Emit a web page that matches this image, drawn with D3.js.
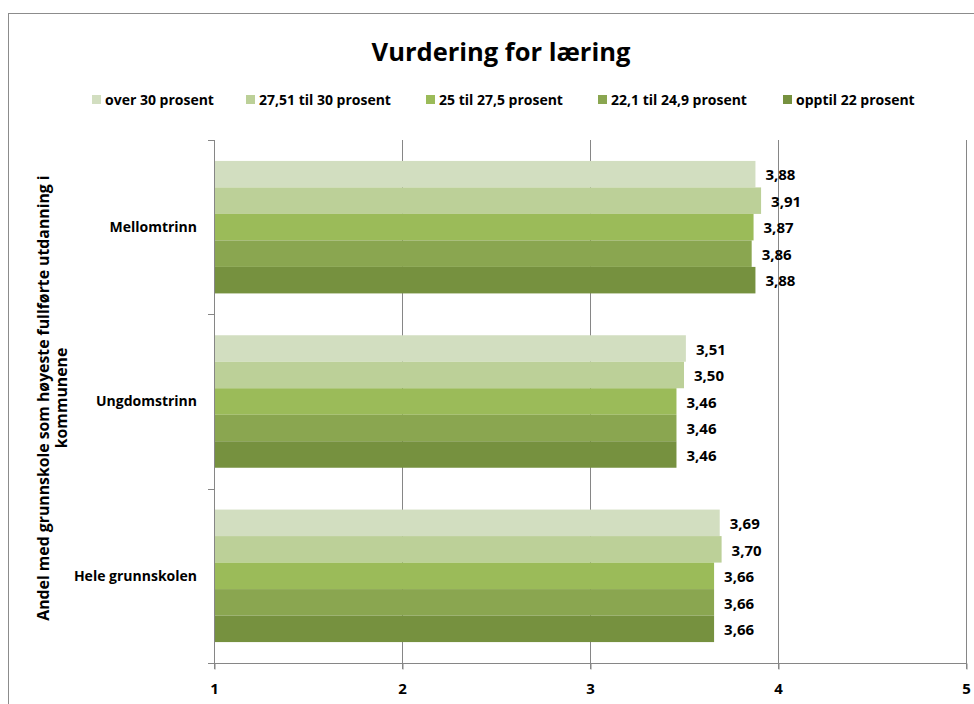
<!DOCTYPE html>
<html><head><meta charset="utf-8">
<script src="https://cdn.jsdelivr.net/npm/d3@7"></script>
<style>
body{margin:0;background:#fff;}
text{font-family:"Open Sans",sans-serif;font-weight:bold;fill:#000;}
</style></head>
<body><svg id="c" width="974" height="704"></svg>
<script>
const title = "Vurdering for læring";
const categories = ["Mellomtrinn","Ungdomstrinn","Hele grunnskolen"];
const series = ["over 30 prosent","27,51 til 30 prosent","25 til 27,5 prosent","22,1 til 24,9 prosent","opptil 22 prosent"];
const colors = ["#d2dec0","#bcd098","#9bbb59","#8aa650","#76913f"];
const values = [
  [3.88, 3.51, 3.69],
  [3.91, 3.50, 3.70],
  [3.87, 3.46, 3.66],
  [3.86, 3.46, 3.66],
  [3.88, 3.46, 3.66]
];
const xTicks = [1,2,3,4,5];
const yTitle = ["Andel med grunnskole som høyeste fullførte utdanning i","kommunene"];

const svg = d3.select("#c");
svg.append("rect").attr("x",8.5).attr("y",13.5).attr("width",990).attr("height",720)
  .attr("fill","none").attr("stroke","#8c8c8c").attr("stroke-width",1);

const L=214, R=966, T=140, B=663;
const x = d3.scaleLinear().domain([1,5]).range([L,R]);
const y0 = d3.scaleBand().domain(categories).range([T,B]).paddingInner(0.24).paddingOuter(0.12);
const y1 = d3.scaleBand().domain(series).range([0,y0.bandwidth()]);

svg.append("text").attr("x",501).attr("y",61).attr("text-anchor","middle")
  .style("font-size","25.5px").text(title);

svg.append("g").selectAll("line").data(xTicks.slice(1)).join("line")
  .attr("x1",d=>Math.round(x(d))+0.5).attr("x2",d=>Math.round(x(d))+0.5)
  .attr("y1",T).attr("y2",B+6).attr("stroke","#868686");

const g = svg.append("g");
series.forEach((s,i)=>{
  g.append("g").selectAll("rect").data(categories).join("rect")
    .attr("x",L).attr("y",c=>y0(c)+y1(s))
    .attr("width",(c,j)=>x(values[i][j])-L).attr("height",y1.bandwidth())
    .attr("fill",colors[i]);
  g.append("g").selectAll("text").data(categories).join("text")
    .attr("x",(c,j)=>x(values[i][j])+10).attr("y",c=>y0(c)+y1(s)+y1.bandwidth()/2+1)
    .attr("dy","0.35em").style("font-size","15px")
    .text((c,j)=>d3.format(".2f")(values[i][j]).replace(".",","));
});

const xa = svg.append("g").attr("transform",`translate(0,${B+0.5})`)
  .call(d3.axisBottom(x).tickValues(xTicks).tickSize(6).tickPadding(14).tickFormat(d=>d));
xa.select(".domain").attr("stroke","#868686").attr("d",`M${L-6},0H${R}`);
xa.selectAll(".tick line").attr("stroke","#868686").attr("x1",0.5).attr("x2",0.5);
xa.selectAll("text").style("font-size","15px").attr("font-family",null).attr("fill",null);

const boundaries = [T, ...categories.map(c=>y0(c)+y0.bandwidth()+y0.step()*y0.paddingInner()/2)];
const ya = svg.append("g");
ya.append("line").attr("x1",L+0.5).attr("x2",L+0.5).attr("y1",T).attr("y2",B+6).attr("stroke","#868686");
ya.selectAll("line.t").data(boundaries).join("line").attr("class","t")
  .attr("x1",L-6).attr("x2",L).attr("y1",d=>Math.round(d)+0.5).attr("y2",d=>Math.round(d)+0.5).attr("stroke","#868686");
ya.selectAll("text").data(categories).join("text")
  .attr("x",197).attr("y",c=>y0(c)+y0.bandwidth()/2).attr("dy","0.35em")
  .attr("text-anchor","end").style("font-size","14px").text(c=>c);

const yt = svg.append("text").attr("transform","translate(49,398) rotate(-90)")
  .attr("text-anchor","middle").style("font-size","15.8px");
yt.selectAll("tspan").data(yTitle).join("tspan").attr("x",0).attr("dy",(d,i)=>i?"1.15em":0).text(d=>d);

const legX = [92,246,426,598,783];
const lg = svg.append("g");
series.forEach((s,i)=>{
  lg.append("rect").attr("x",legX[i]).attr("y",95).attr("width",9).attr("height",9).attr("fill",colors[i]);
  lg.append("text").attr("x",legX[i]+13).attr("y",100).attr("dy","0.35em").style("font-size","14px").text(s);
});
</script></body></html>
